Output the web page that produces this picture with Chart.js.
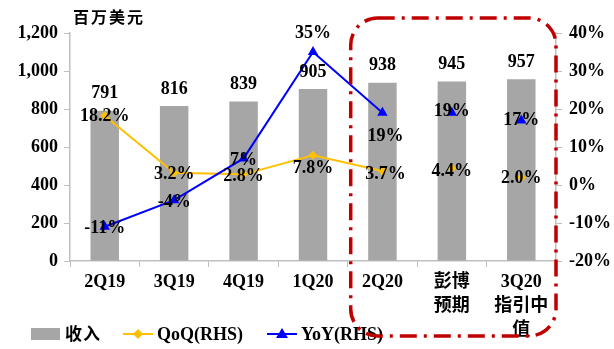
<!DOCTYPE html>
<html>
<head>
<meta charset="utf-8">
<script src="https://cdn.jsdelivr.net/npm/chart.js@4/dist/chart.umd.min.js"></script>
<style>
  html, body { margin: 0; padding: 0; background: #fff; }
  #chart { display: block; }
</style>
</head>
<body>
<canvas id="chart" width="614" height="349"></canvas>
<script>
// Quarterly revenue (US$ mn) with QoQ / YoY growth on the right axis
const categories = ['2Q19', '3Q19', '4Q19', '1Q20', '2Q20', ['彭博', '预期'], ['3Q20', '指引中', '值']];
const revenue = [791, 816, 839, 905, 938, 945, 957];
const qoq = [18.2, 3.2, 2.8, 7.8, 3.7, 4.4, 2.0];
const yoy = [-11, -4, 7, 35, 19, 19, 17];
const leftTicks = { min: 0, max: 1200, step: 200 };
const rightTicks = { min: -20, max: 40, step: 10 };

// where each growth label sits relative to its point (px)
const qoqLabelShift = [[0, 1], [0, 2], [0, 2], [0, 13], [3, 3], [0, 3], [0, 1]];
const yoyLabelShift = [[0, 2], [0, 2], [0, 2], [0, -19], [3, 24], [0, -1], [0, 0]];

const SERIF = "'Liberation Serif', 'Times New Roman', 'Noto Sans CJK SC', serif";
const CJK = "'Noto Sans CJK SC', sans-serif";
const AXIS_GRAY = '#bfbfbf';
const BAR_GRAY = '#a6a6a6';
const ORANGE = '#ffc000';
const BLUE = '#0000ff';
const RED = '#c00000';

// only the actual quarters are joined by a line; estimates stand alone
const hideForecastSegments = ctx => ctx.p0DataIndex >= 4 ? 'rgba(0,0,0,0)' : undefined;

const labelPlugin = {
    id: 'valueLabels',
    afterDatasetsDraw(chart) {
        const ctx = chart.ctx;
        ctx.save();
        ctx.font = 'bold 18px ' + SERIF;
        ctx.fillStyle = '#000';
        ctx.textAlign = 'center';
        ctx.textBaseline = 'middle';

        chart.getDatasetMeta(0).data.forEach((bar, i) => {
            ctx.fillText(String(revenue[i]), bar.x, bar.y - 17);
        });
        chart.getDatasetMeta(1).data.forEach((pt, i) => {
            const s = qoqLabelShift[i];
            ctx.fillText(qoq[i].toFixed(1) + '%', pt.x + s[0], pt.y + s[1]);
        });
        chart.getDatasetMeta(2).data.forEach((pt, i) => {
            const s = yoyLabelShift[i];
            ctx.fillText(yoy[i] + '%', pt.x + s[0], pt.y + s[1]);
        });
        ctx.restore();
    }
};

const decorPlugin = {
    id: 'decor',
    afterDraw(chart) {
        const ctx = chart.ctx;
        const area = chart.chartArea;
        const x = chart.scales.x;

        // unit caption above the left axis
        ctx.save();
        ctx.font = 'bold 16px ' + CJK;
        ctx.fillStyle = '#000';
        ctx.textBaseline = 'middle';
        Array.from('百万美元').forEach((ch, i) => ctx.fillText(ch, 73 + i * 18, 17));

        // legend
        const ly = 334;
        ctx.fillStyle = BAR_GRAY;
        ctx.fillRect(31, ly - 6, 29, 12);
        ctx.fillStyle = '#000';
        ctx.font = 'bold 17px ' + CJK;
        ctx.fillText('收', 65, ly);
        ctx.fillText('入', 83, ly);

        ctx.strokeStyle = ORANGE;
        ctx.lineWidth = 2;
        ctx.beginPath(); ctx.moveTo(123, ly); ctx.lineTo(153, ly); ctx.stroke();
        ctx.fillStyle = ORANGE;
        ctx.beginPath();
        ctx.moveTo(138, ly - 5); ctx.lineTo(143, ly); ctx.lineTo(138, ly + 5); ctx.lineTo(133, ly);
        ctx.closePath(); ctx.fill();

        ctx.strokeStyle = BLUE;
        ctx.beginPath(); ctx.moveTo(267, ly); ctx.lineTo(297, ly); ctx.stroke();
        ctx.fillStyle = BLUE;
        ctx.beginPath();
        ctx.moveTo(282, ly - 6); ctx.lineTo(288, ly + 4); ctx.lineTo(276, ly + 4);
        ctx.closePath(); ctx.fill();

        ctx.fillStyle = '#000';
        ctx.font = 'bold 18px ' + SERIF;
        ctx.fillText('QoQ(RHS)', 157, ly + 1);
        ctx.fillText('YoY(RHS)', 301, ly + 1);

        // dash-dot frame around the latest quarter and the outlook
        const left = (x.getPixelForValue(3) + x.getPixelForValue(4)) / 2 + 3;
        const right = area.right;
        ctx.strokeStyle = RED;
        ctx.lineWidth = 3.5;
        ctx.setLineDash([17, 7, 3, 7]);
        ctx.beginPath();
        ctx.roundRect(left, 18, right - left, 318, 27);
        ctx.stroke();
        ctx.restore();
    }
};

const tickFont = { family: SERIF, size: 18, weight: 'bold' };

new Chart(document.getElementById('chart'), {
    type: 'bar',
    data: {
        labels: categories,
        datasets: [
            {
                label: '收入',
                data: revenue,
                backgroundColor: BAR_GRAY,
                yAxisID: 'y',
                barPercentage: 0.41,
                categoryPercentage: 1,
                order: 2
            },
            {
                type: 'line',
                label: 'QoQ(RHS)',
                data: qoq,
                yAxisID: 'y1',
                borderColor: ORANGE,
                backgroundColor: ORANGE,
                borderWidth: 2,
                pointStyle: 'rectRot',
                pointRadius: 4.5,
                pointBorderWidth: 0,
                tension: 0,
                segment: { borderColor: hideForecastSegments },
                order: 1
            },
            {
                type: 'line',
                label: 'YoY(RHS)',
                data: yoy,
                yAxisID: 'y1',
                borderColor: BLUE,
                backgroundColor: BLUE,
                borderWidth: 2,
                pointStyle: 'triangle',
                pointRadius: 6,
                pointBorderWidth: 0,
                tension: 0,
                segment: { borderColor: hideForecastSegments },
                order: 0
            }
        ]
    },
    options: {
        responsive: false,
        animation: false,
        layout: { padding: { top: 33, left: 0, right: 0, bottom: 0 } },
        plugins: {
            legend: { display: false },
            tooltip: { enabled: false }
        },
        scales: {
            x: {
                offset: true,
                grid: { drawOnChartArea: false, drawTicks: true, tickLength: 6, color: AXIS_GRAY, offset: true },
                border: { color: AXIS_GRAY, width: 1.5 },
                ticks: { color: '#000', font: { ...tickFont, lineHeight: 1.33 }, padding: 3, maxRotation: 0, autoSkip: false },
                afterFit: s => { s.height = 88; }
            },
            y: {
                position: 'left',
                min: leftTicks.min,
                max: leftTicks.max,
                grid: { drawOnChartArea: false, tickLength: 6, color: AXIS_GRAY },
                border: { color: AXIS_GRAY, width: 1.5 },
                ticks: { stepSize: leftTicks.step, color: '#000', font: tickFont, padding: 6 },
                afterFit: s => { s.width = 70; }
            },
            y1: {
                position: 'right',
                min: rightTicks.min,
                max: rightTicks.max,
                grid: { drawOnChartArea: false, tickLength: 6, color: AXIS_GRAY },
                border: { color: AXIS_GRAY, width: 1.5 },
                ticks: { stepSize: rightTicks.step, color: '#000', font: tickFont, padding: 7, callback: v => v + '%' },
                afterFit: s => { s.width = 58; }
            }
        }
    },
    plugins: [labelPlugin, decorPlugin]
});
</script>
</body>
</html>
